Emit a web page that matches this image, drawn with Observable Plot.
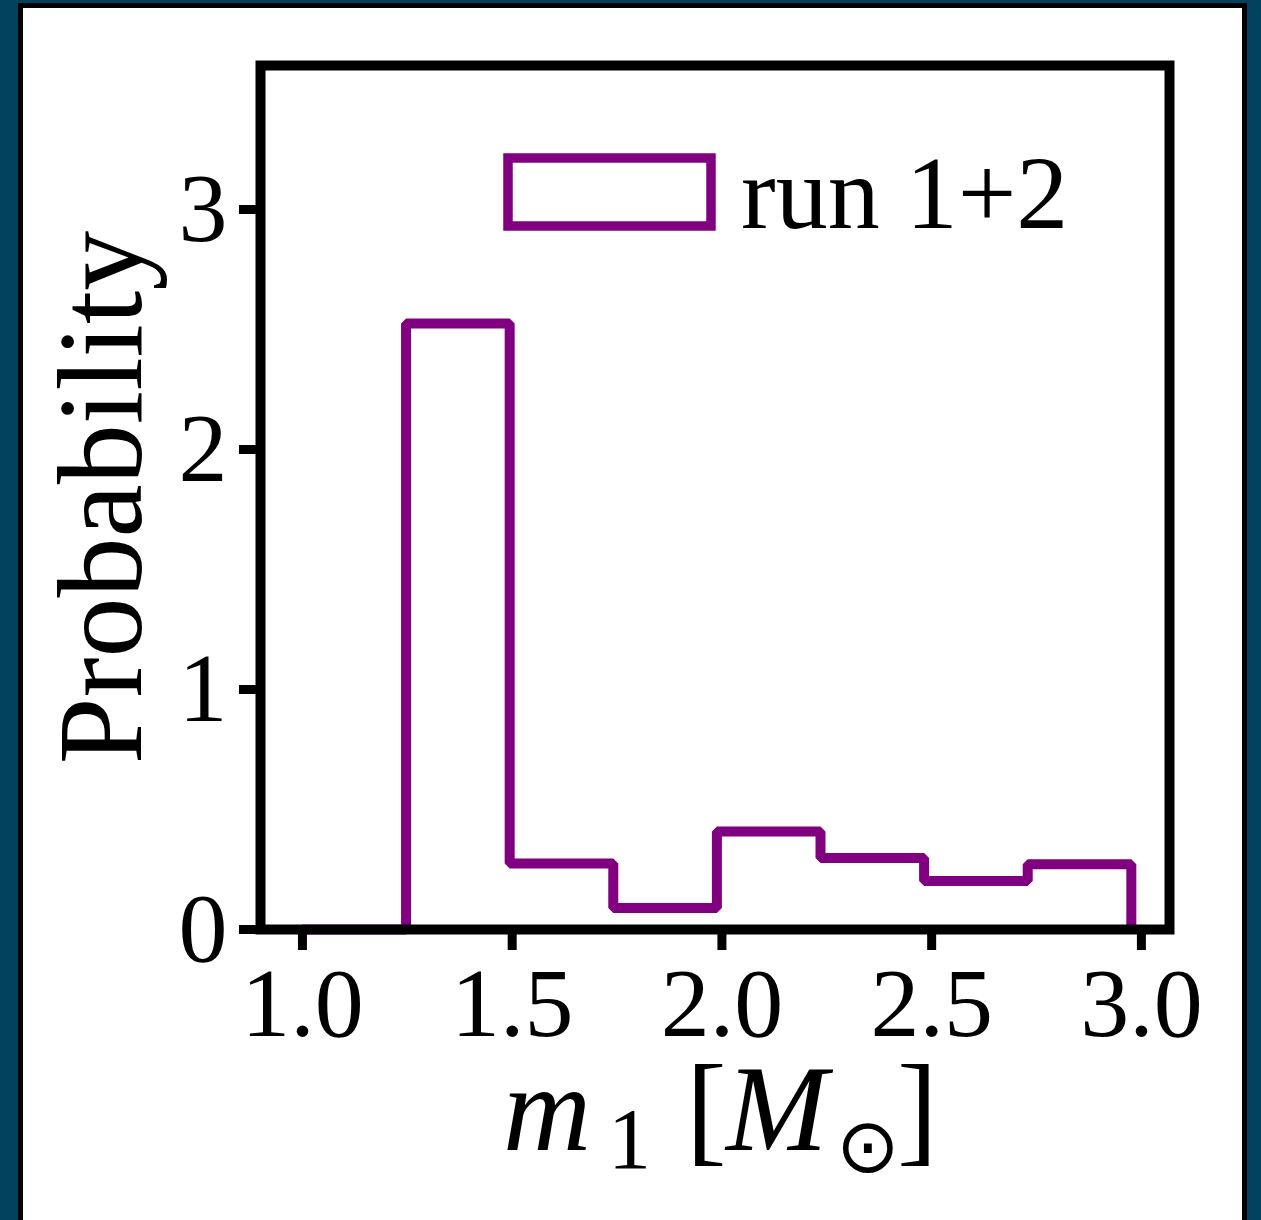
<!DOCTYPE html>
<html>
<head>
<meta charset="utf-8">
<script src="https://cdn.jsdelivr.net/npm/d3@7"></script>
<script src="https://cdn.jsdelivr.net/npm/@observablehq/plot@0.6"></script>
<style>
  html, body { margin: 0; padding: 0; }
  body {
    width: 1261px; height: 1220px; overflow: hidden; position: relative;
    background: #02425f;
  }
  #panel {
    position: absolute; left: 18px; top: 3px;
    width: 1219px; height: 1300px;
    background: #fff; border: 5px solid #000;
  }
  #chart { position: absolute; left: 0; top: 0; }
</style>
</head>
<body>
<div id="panel"></div>
<div id="chart"></div>
<script>
// Histogram of primary mass m1 (density-normalised), bin edges and heights
const binEdges = [1.0, 1.247, 1.494, 1.741, 1.988, 2.235, 2.482, 2.729, 2.976];
const density = [0, 2.525, 0.275, 0.09, 0.408, 0.298, 0.202, 0.272];
const xTicks = [1.0, 1.5, 2.0, 2.5, 3.0];
const yTicks = [0, 1, 2, 3];
const seriesName = "run 1+2";
const yLabel = "Probability";

const purple = "#800080";
const serif = "'Liberation Serif', 'Times New Roman', serif";

// step outline: each edge carries the height of the bin to its right,
// the last edge drops back to zero
const steps = binEdges.map((e, i) => ({x: e, y: i < density.length ? density[i] : 0}));

const W = 1261, H = 1220;
const plot = Plot.plot({
  width: W,
  height: H,
  marginLeft: 260,
  marginRight: 92,
  marginTop: 65,
  marginBottom: 291,
  style: {background: "transparent", fontFamily: serif, color: "#000"},
  x: {domain: [0.9, 3.067]},
  y: {domain: [0, 3.6]},
  marks: [
    Plot.line(steps, {
      x: "x", y: "y", curve: "step-after",
      stroke: purple, strokeWidth: 10, strokeLinejoin: "miter", strokeLinecap: "butt"
    }),
    Plot.frame({stroke: "#000", strokeWidth: 10}),
    Plot.axisX({
      anchor: "bottom", ticks: xTicks, tickFormat: d => d.toFixed(1),
      tickSize: 21, tickPadding: 16, strokeWidth: 9, fontSize: 98, label: null
    }),
    Plot.axisY({
      anchor: "left", ticks: yTicks, tickFormat: d => String(d),
      tickSize: 21, tickPadding: 12, strokeWidth: 9, fontSize: 98, label: null
    }),
    Plot.text([yLabel], {
      frameAnchor: "left", textAnchor: "middle", rotate: -90, dx: -158, fontSize: 120
    })
  ]
});
document.getElementById("chart").appendChild(plot);

const svg = d3.select(plot);

// legend: outlined swatch plus series name
const legend = svg.append("g").attr("class", "legend").attr("text-anchor", "start");
legend.append("rect")
  .attr("x", 508).attr("y", 158).attr("width", 203).attr("height", 68)
  .attr("fill", "none").attr("stroke", purple).attr("stroke-width", 9.5);
legend.append("text")
  .attr("x", 741).attr("y", 228)
  .attr("font-size", 104).attr("font-family", serif).attr("fill", "#000")
  .text(seriesName);

// x axis label: m_1 [M_sun]
const xl = svg.append("text")
  .attr("text-anchor", "start")
  .attr("y", 1150).attr("font-family", serif).attr("font-size", 122).attr("fill", "#000");
xl.append("tspan").attr("x", 503).attr("font-style", "italic").text("m");
xl.append("tspan").attr("x", 608).attr("font-size", 86).attr("dy", 18).text("1");
xl.append("tspan").attr("x", 686).attr("dy", -18).text("[");
xl.append("tspan").attr("x", 726).attr("font-style", "italic").text("M");
xl.append("tspan").attr("x", 836).attr("font-size", 76).attr("dy", 22)
  .attr("font-family", "'DejaVu Sans', sans-serif").text("\u2299");
xl.append("tspan").attr("x", 897).attr("dy", -22).text("]");
</script>
</body>
</html>
